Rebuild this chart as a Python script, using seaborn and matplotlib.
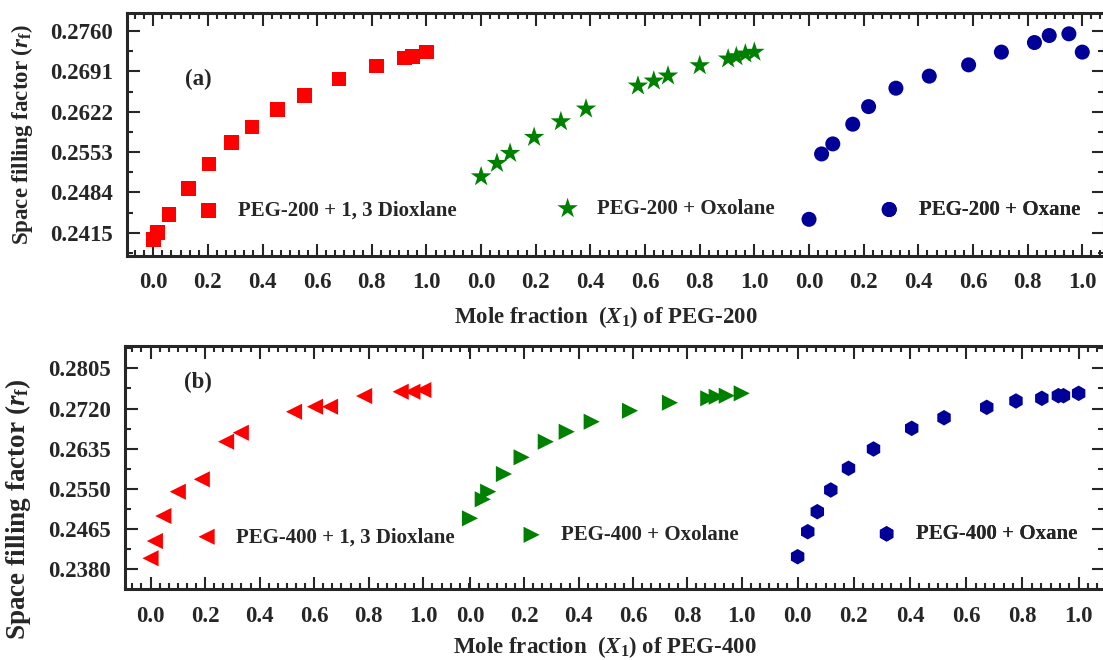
import numpy as np
import pandas as pd
import matplotlib
matplotlib.use("Agg")
import matplotlib.pyplot as plt
import seaborn as sns
from matplotlib.ticker import FixedLocator, FixedFormatter, FormatStrFormatter

# ---------------- data ----------------
# Panel (a): PEG-200 systems
a_dioxlane_x = [0.0, 0.015, 0.058, 0.129, 0.204, 0.287, 0.361, 0.455, 0.553, 0.680, 0.816, 0.920, 0.950, 1.0]
a_dioxlane_y = [0.24037, 0.24157, 0.24465, 0.24903, 0.25326, 0.25691, 0.25960, 0.26256, 0.26502, 0.26781, 0.26999, 0.27136, 0.27163, 0.27239]
a_oxolane_x = [0.0, 0.058, 0.106, 0.194, 0.292, 0.384, 0.574, 0.632, 0.684, 0.800, 0.904, 0.934, 0.967, 1.0]
a_oxolane_y = [0.25109, 0.25338, 0.25509, 0.25783, 0.26050, 0.26268, 0.26661, 0.26747, 0.26833, 0.27009, 0.27124, 0.27163, 0.27209, 0.27239]
a_oxane_x = [0.0, 0.046, 0.087, 0.160, 0.218, 0.318, 0.440, 0.584, 0.704, 0.825, 0.879, 0.951, 1.0]
a_oxane_y = [0.24379, 0.25497, 0.25669, 0.26006, 0.26307, 0.26622, 0.26828, 0.27021, 0.27239, 0.27403, 0.27523, 0.27552, 0.27239]

# Panel (b): PEG-400 systems
b_dioxlane_x = [0.0, 0.016, 0.047, 0.100, 0.188, 0.277, 0.331, 0.526, 0.603, 0.658, 0.783, 0.917, 0.960, 1.0]
b_dioxlane_y = [0.24033, 0.24398, 0.24927, 0.25441, 0.25703, 0.26498, 0.26688, 0.27132, 0.27238, 0.27238, 0.27464, 0.27555, 0.27555, 0.27591]
b_oxolane_x = [0.0, 0.047, 0.067, 0.125, 0.190, 0.279, 0.356, 0.448, 0.589, 0.736, 0.877, 0.908, 0.945, 1.0]
b_oxolane_y = [0.24878, 0.25280, 0.25441, 0.25815, 0.26168, 0.26498, 0.26709, 0.26921, 0.27153, 0.27323, 0.27416, 0.27449, 0.27471, 0.27521]
b_oxane_x = [0.0, 0.036, 0.070, 0.118, 0.181, 0.270, 0.406, 0.521, 0.673, 0.777, 0.869, 0.928, 0.946, 1.0]
b_oxane_y = [0.24066, 0.24595, 0.25018, 0.25477, 0.25936, 0.26344, 0.26781, 0.27005, 0.27225, 0.27359, 0.27416, 0.27471, 0.27471, 0.27521]

a_labels = ["PEG-200 + 1, 3 Dioxlane", "PEG-200 + Oxolane", "PEG-200 + Oxane"]
b_labels = ["PEG-400 + 1, 3 Dioxlane", "PEG-400 + Oxolane", "PEG-400 + Oxane"]
x_tick_values = [0.0, 0.2, 0.4, 0.6, 0.8, 1.0]
x_tick_labels = ["0.0", "0.2", "0.4", "0.6", "0.8", "1.0"]
a_yticks = [0.2415, 0.2484, 0.2553, 0.2622, 0.2691, 0.2760]
b_yticks = [0.2380, 0.2465, 0.2550, 0.2635, 0.2720, 0.2805]

colors = ["#FF0000", "#008000", "#000099"]

# ---------------- style ----------------
sns.set_style("ticks")
plt.rcParams["font.family"] = ["Liberation Serif", "DejaVu Serif"]
plt.rcParams["font.weight"] = "bold"
plt.rcParams["mathtext.fontset"] = "custom"
plt.rcParams["mathtext.rm"] = "Liberation Serif:bold"
plt.rcParams["mathtext.it"] = "Liberation Serif:bold:italic"
plt.rcParams["mathtext.bf"] = "Liberation Serif:bold"

FS = 16.5      # ticks, axis labels, panel tags
LFS = 15       # legend text
W, H = 1103, 660
fig = plt.figure(figsize=(W / 100, H / 100), dpi=100)


def fig_rect(l, t, r, b):
    return [l / W, 1 - b / H, (r - l) / W, (b - t) / H]


panels = [
    dict(rect=fig_rect(126.7, 13.3, 1104, 255.5), xs=[a_dioxlane_x, a_oxolane_x, a_oxane_x],
         ys=[a_dioxlane_y, a_oxolane_y, a_oxane_y], labels=a_labels,
         markers=["s", "*", "o"], sizes=[112, 240, 117],
         offsets=[0.0, 1.2, 2.4], scales=[1.0, 1.0, 1.0],
         xlim=(-0.097, 3.4795), ylim=(0.2376, 0.27903), yticks=a_yticks,
         xlabel=r"Mole fraction  ($\mathit{X}_\mathrm{1}$) of PEG-200", xlabel_y=-0.2,
         ylabel_fs=FS, ylabel_pos=(-0.094, 0.5),
         tag="(a)", tagpos=(0.073, 0.725),
         leg=[(0.0732, 0.184), (0.4405, 0.192), (0.7696, 0.188)]),
    dict(rect=fig_rect(125, 346, 1104, 589.3), xs=[b_dioxlane_x, b_oxolane_x, b_oxane_x],
         ys=[b_dioxlane_y, b_oxolane_y, b_oxane_y], labels=b_labels,
         markers=["<", ">", "h"], sizes=[135, 135, 125],
         offsets=[0.0, 1.171, 2.372], scales=[1.0, 0.996, 1.03],
         xlim=(-0.0935, 3.495), ylim=(0.23377, 0.28522), yticks=b_yticks,
         xlabel=r"Mole fraction  ($\mathit{X}_\mathrm{1}$) of PEG-400", xlabel_y=-0.183,
         ylabel_fs=19.5, ylabel_pos=(-0.094, 0.33),
         tag="(b)", tagpos=(0.0746, 0.852),
         leg=[(0.0727, 0.214), (0.4047, 0.222), (0.7673, 0.226)]),
]

for p in panels:
    ax = fig.add_axes(p["rect"])
    for xs, ys, lab, mk, sz, col, off, sc in zip(p["xs"], p["ys"], p["labels"], p["markers"], p["sizes"],
                                                  colors, p["offsets"], p["scales"]):
        df = pd.DataFrame({"pos": off + sc * np.asarray(xs), "val": ys})
        sns.scatterplot(data=df, x="pos", y="val", marker=mk, s=sz, color=col,
                        edgecolor="none", linewidth=0, ax=ax, label=lab, legend=False)

    ax.set_xlim(*p["xlim"])
    ax.set_ylim(*p["ylim"])

    # x ticks repeating 0.0 ... 1.0 for every system block
    major, labs, minor = [], [], []
    offs, scs = p["offsets"], p["scales"]
    for i, (off, sc) in enumerate(zip(offs, scs)):
        major += [off + sc * v for v in x_tick_values]
        labs += x_tick_labels
        end = offs[i + 1] if i + 1 < len(offs) else p["xlim"][1]
        j = -40 if i == 0 else 0
        while off + sc * j / 30 < end - 1e-6:
            pos = off + sc * j / 30
            if pos > p["xlim"][0] and j % 6 != 0:
                minor.append(pos)
            j += 1
    ax.xaxis.set_major_locator(FixedLocator(major))
    ax.xaxis.set_major_formatter(FixedFormatter(labs))
    ax.xaxis.set_minor_locator(FixedLocator(minor))

    yt = p["yticks"]
    step = yt[1] - yt[0]
    ax.yaxis.set_major_locator(FixedLocator(yt))
    ax.yaxis.set_major_formatter(FormatStrFormatter("%.4f"))
    ymin = [v + step / 2 for v in [yt[0] - step] + yt]
    ax.yaxis.set_minor_locator(FixedLocator([v for v in ymin if p["ylim"][0] < v < p["ylim"][1]]))

    ax.tick_params(which="both", direction="in", top=True, right=True, labelsize=FS, width=1.5)
    ax.tick_params(which="major", length=9)
    ax.tick_params(which="minor", length=4.5)
    ax.tick_params(axis="x", which="major", pad=12)
    ax.tick_params(axis="y", which="major", pad=10)
    for lbl in ax.get_xticklabels() + ax.get_yticklabels():
        lbl.set_fontweight("bold")
    for sp in ax.spines.values():
        sp.set_linewidth(2.2)

    ax.set_xlabel(p["xlabel"], fontsize=FS, fontweight="bold")
    ax.set_ylabel(r"Space filling factor ($\mathit{r}_\mathrm{f}$)", fontsize=p["ylabel_fs"], fontweight="bold")
    ax.yaxis.set_label_coords(*p["ylabel_pos"])
    ax.xaxis.set_label_coords(0.49, p["xlabel_y"])

    ax.text(p["tagpos"][0], p["tagpos"][1], p["tag"], transform=ax.transAxes, fontsize=FS,
            fontweight="bold", ha="center", va="center")

    handles, labels = ax.get_legend_handles_labels()
    for h, l, anc in zip(handles, labels, p["leg"]):
        leg = ax.legend([h], [l], loc="center left", bbox_to_anchor=anc, frameon=False,
                        borderpad=0, borderaxespad=0, handlelength=1.0, handletextpad=0.93,
                        scatterpoints=1, prop={"size": LFS, "weight": "bold"})
        ax.add_artist(leg)

fig.savefig("out.png", dpi=100)
